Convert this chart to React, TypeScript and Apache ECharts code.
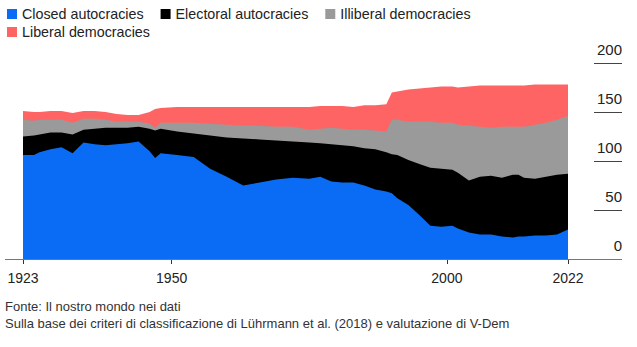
import React, { useEffect, useRef } from "react";
import * as echarts from "echarts";

const years = [1923, 1925, 1926, 1928, 1930, 1932, 1934, 1936, 1938, 1940, 1942, 1944, 1946, 1947, 1948, 1951, 1954, 1957, 1960, 1963, 1966, 1969, 1972, 1975, 1977, 1979, 1981, 1983, 1985, 1987, 1989, 1990, 1991, 1993, 1995, 1997, 1999, 2001, 2002, 2004, 2006, 2008, 2010, 2012, 2013, 2014, 2016, 2018, 2020, 2022];

const closedAutocracies = [106, 106, 109, 112, 114, 108, 119, 117, 116, 117, 118, 120, 110, 103, 108, 106, 104, 92, 84, 75, 78, 81, 83, 82, 84, 79, 78, 78, 75, 71, 69, 67, 62, 55, 45, 34, 33, 34, 31, 27, 25, 25, 23, 22, 23, 23, 24, 24, 25, 30];
const electoralAutocracies = [19, 20, 18, 17, 15, 19, 13, 16, 18, 17, 16, 15, 23, 28, 25, 24, 24, 34, 40, 48, 44, 40, 37, 37, 34, 38, 38, 37, 38, 41, 40, 40, 44, 46, 52, 59, 59, 57, 57, 53, 59, 60, 60, 64, 63, 60, 58, 60, 61, 57];
const illiberalDemocracies = [17, 15, 15, 13, 13, 12, 11, 10, 8, 6, 6, 5, 5, 3, 6, 9, 11, 12, 13, 13, 14, 14, 15, 13, 15, 17, 17, 17, 19, 19, 21, 35, 36, 39, 43, 47, 47, 48, 49, 56, 51, 49, 52, 49, 49, 52, 55, 55, 56, 59];
const liberalDemocracies = [9, 9, 8, 9, 9, 10, 8, 8, 8, 8, 7, 7, 12, 19, 15, 16, 16, 17, 18, 19, 19, 20, 20, 23, 23, 22, 23, 23, 25, 26, 28, 28, 29, 33, 34, 35, 37, 37, 38, 40, 42, 43, 42, 42, 42, 42, 41, 39, 36, 32];

const seriesNames = ["Closed autocracies", "Electoral autocracies", "Illiberal democracies", "Liberal democracies"];
const seriesColors = ["#0a6cf5", "#000000", "#9a9a9a", "#ff6464"];
const xTickYears = [1923, 1950, 2000, 2022];
const yTicks = { min: 0, max: 200, interval: 50 };
const footnotes = [
  "Fonte: Il nostro mondo nei dati",
  "Sulla base dei criteri di classificazione di Lührmann et al. (2018) e valutazione di V-Dem",
];

const FONT = "'Liberation Sans', Arial, Helvetica, sans-serif";

export default function App() {
  const ref = useRef<HTMLDivElement>(null);

  useEffect(() => {
    document.body.style.margin = "0";
    if (!ref.current) return;
    const chart = echarts.init(ref.current, undefined, { renderer: "svg" });

    const layers = [closedAutocracies, electoralAutocracies, illiberalDemocracies, liberalDemocracies];
    // cumulative boundaries (stack built from the arrays)
    const cumulative: number[][] = [];
    layers.forEach((arr, k) => {
      cumulative.push(arr.map((v, i) => (k === 0 ? v : cumulative[k - 1][i] + v)));
    });

    // draw top layer first so lower layers paint over it
    const series = [3, 2, 1, 0].map((k) => ({
      name: seriesNames[k],
      type: "line",
      data: years.map((y, i) => [y, cumulative[k][i]]),
      showSymbol: false,
      symbol: "none",
      silent: true,
      lineStyle: { width: 0, color: seriesColors[k] },
      itemStyle: { color: seriesColors[k] },
      areaStyle: { color: seriesColors[k], opacity: 1 },
      z: 2,
    }));

    const legendCommon = {
      icon: "rect",
      itemWidth: 10,
      itemHeight: 10,
      itemGap: 17,
      padding: 0,
      selectedMode: false,
      textStyle: { fontSize: 14.3, color: "#222", fontFamily: FONT },
    };

    chart.setOption({
      animation: false,
      textStyle: { fontFamily: FONT },
      legend: [
        { ...legendCommon, data: seriesNames.slice(0, 3), left: 7, top: 7 },
        { ...legendCommon, data: seriesNames.slice(3), left: 7, top: 25 },
      ],
      grid: {
        left: 23,
        right: 69,
        top: 63,
        bottom: 88,
        containLabel: false,
        outerBoundsMode: "none",
      },
      xAxis: {
        type: "value",
        min: years[0],
        max: years[years.length - 1],
        axisLine: { show: false },
        splitLine: { show: false },
        axisTick: {
          show: true,
          customValues: xTickYears,
          length: 5,
          lineStyle: { color: "#333", width: 1 },
        },
        axisLabel: {
          customValues: xTickYears,
          formatter: (v: number) => String(v),
          fontSize: 14,
          color: "#222",
          margin: 12,
          fontFamily: FONT,
        },
      },
      yAxis: {
        type: "value",
        position: "right",
        offset: 26,
        min: yTicks.min,
        max: yTicks.max,
        interval: yTicks.interval,
        axisLine: { show: false },
        splitLine: { show: false },
        axisTick: {
          show: true,
          inside: false,
          length: 28,
          lineStyle: { color: "#444", width: 1 },
        },
        axisLabel: {
          align: "right",
          verticalAlign: "bottom",
          margin: 28,
          padding: [0, 0, 6, 0],
          fontSize: 15,
          color: "#222",
          fontFamily: FONT,
        },
      },
      graphic: [
        {
          type: "line",
          z: 1,
          shape: { x1: 5, y1: 259.5, x2: 622, y2: 259.5 },
          style: { stroke: "#777", lineWidth: 1 },
          silent: true,
        },
        {
          type: "text",
          left: 5,
          top: 300,
          style: { text: footnotes[0], font: `13px ${FONT}`, fill: "#333" },
          silent: true,
        },
        {
          type: "text",
          left: 5,
          top: 317,
          style: { text: footnotes[1], font: `13px ${FONT}`, fill: "#333" },
          silent: true,
        },
      ],
      series,
    });

    return () => chart.dispose();
  }, []);

  return <div ref={ref} style={{ width: 637, height: 347 }} />;
}
